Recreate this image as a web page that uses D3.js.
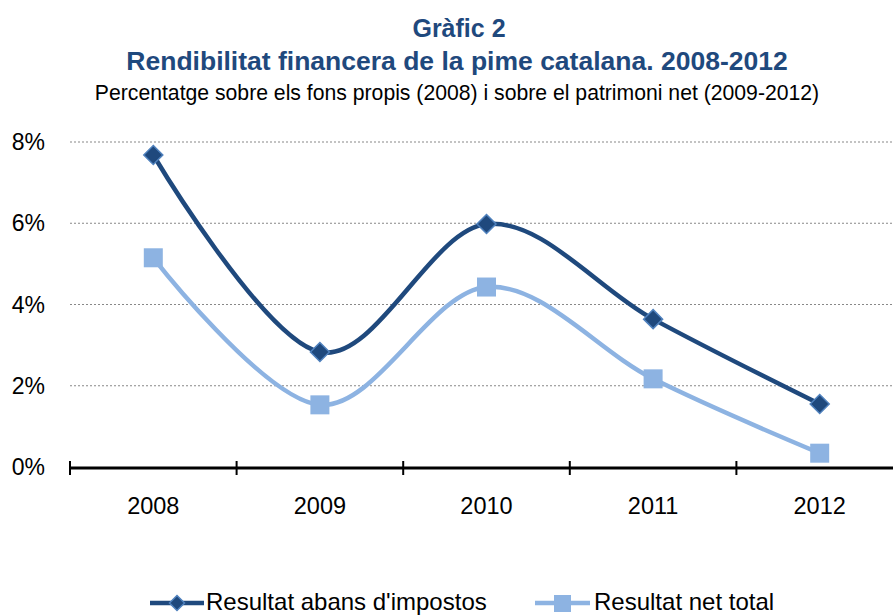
<!DOCTYPE html>
<html>
<head>
<meta charset="utf-8">
<script src="https://cdn.jsdelivr.net/npm/d3@7.9.0/dist/d3.min.js"></script>
<style>
  body { margin: 0; background: #fff; }
  svg { font-family: Arial, "Liberation Sans", sans-serif; display: block; }
</style>
</head>
<body>
<svg id="chart" width="893" height="615"></svg>
<script>
// Data
const years = ['2008', '2009', '2010', '2011', '2012'];
const abansImpostos = [7.68, 2.83, 5.98, 3.64, 1.55];
const netTotal = [5.15, 1.53, 4.43, 2.17, 0.34];
const yTicks = [0, 2, 4, 6, 8];
const seriesNames = ["Resultat abans d'impostos", 'Resultat net total'];

const dark = '#1f497d';
const light = '#8db3e2';

const svg = d3.select('#chart');

// Titles
svg.append('text')
  .attr('x', 459).attr('y', 37)
  .attr('text-anchor', 'middle')
  .attr('font-size', 25).attr('font-weight', 'bold')
  .attr('fill', dark)
  .text('Gràfic 2');
svg.append('text')
  .attr('x', 457).attr('y', 70)
  .attr('text-anchor', 'middle')
  .attr('font-size', 26.5).attr('font-weight', 'bold')
  .attr('fill', dark)
  .text('Rendibilitat financera de la pime catalana. 2008-2012');
svg.append('text')
  .attr('x', 457).attr('y', 100)
  .attr('text-anchor', 'middle')
  .attr('font-size', 21.2)
  .attr('fill', '#000')
  .text('Percentatge sobre els fons propis (2008) i sobre el patrimoni net (2009-2012)');

// Scales
const x = d3.scaleBand().domain(years).range([70, 903]);
const y = d3.scaleLinear().domain([0, 8]).range([467, 142]);
const cx = d => x(d) + x.bandwidth() / 2;

// Grid lines
svg.append('g')
  .selectAll('line')
  .data(yTicks.filter(d => d > 0))
  .join('line')
  .attr('x1', 70).attr('x2', 893)
  .attr('y1', d => y(d)).attr('y2', d => y(d))
  .attr('stroke', '#888')
  .attr('stroke-width', 1.2)
  .attr('stroke-dasharray', '2,2');

// Y labels
svg.append('g')
  .selectAll('text')
  .data(yTicks)
  .join('text')
  .attr('x', 45)
  .attr('y', d => y(d) + 8)
  .attr('text-anchor', 'end')
  .attr('font-size', 23)
  .text(d => d + '%');

// X axis
const xAxis = svg.append('g');
xAxis.append('line')
  .attr('x1', 69).attr('x2', 893)
  .attr('y1', y(0) + 1).attr('y2', y(0) + 1)
  .attr('stroke', '#000').attr('stroke-width', 3);
xAxis.selectAll('line.tick')
  .data(years)
  .join('line')
  .attr('class', 'tick')
  .attr('x1', d => x(d)).attr('x2', d => x(d))
  .attr('y1', y(0) - 6).attr('y2', y(0) + 8)
  .attr('stroke', '#000').attr('stroke-width', 2);
xAxis.selectAll('text')
  .data(years)
  .join('text')
  .attr('x', d => cx(d))
  .attr('y', 514)
  .attr('text-anchor', 'middle')
  .attr('font-size', 23.5)
  .text(d => d);

// Lines
const line = d3.line()
  .x((d, i) => cx(years[i]))
  .y(d => y(d))
  .curve(d3.curveCardinal.tension(0));

svg.append('path')
  .datum(netTotal)
  .attr('d', line)
  .attr('fill', 'none')
  .attr('stroke', light)
  .attr('stroke-width', 4.5);

svg.append('path')
  .datum(abansImpostos)
  .attr('d', line)
  .attr('fill', 'none')
  .attr('stroke', dark)
  .attr('stroke-width', 4.5);

// Markers
const diamond = (px, py, r) => `M${px},${py - r}L${px + r},${py}L${px},${py + r}L${px - r},${py}Z`;

svg.append('g')
  .selectAll('rect')
  .data(netTotal)
  .join('rect')
  .attr('x', (d, i) => cx(years[i]) - 9.5)
  .attr('y', d => y(d) - 9.5)
  .attr('width', 19).attr('height', 19)
  .attr('fill', light);

svg.append('g')
  .selectAll('path')
  .data(abansImpostos)
  .join('path')
  .attr('d', (d, i) => diamond(cx(years[i]), y(d), 9.5))
  .attr('fill', dark)
  .attr('stroke', '#4f81bd')
  .attr('stroke-width', 1.5);

// Legend
const legend = svg.append('g');
legend.append('line')
  .attr('x1', 150).attr('x2', 204)
  .attr('y1', 603).attr('y2', 603)
  .attr('stroke', dark).attr('stroke-width', 4.5);
legend.append('path')
  .attr('d', diamond(177, 603, 7.5))
  .attr('fill', dark).attr('stroke', '#4f81bd').attr('stroke-width', 1.5);
legend.append('text')
  .attr('x', 206).attr('y', 610)
  .attr('font-size', 24)
  .text(seriesNames[0]);

legend.append('line')
  .attr('x1', 535).attr('x2', 590)
  .attr('y1', 603).attr('y2', 603)
  .attr('stroke', light).attr('stroke-width', 4.5);
legend.append('rect')
  .attr('x', 554).attr('y', 595)
  .attr('width', 17).attr('height', 17)
  .attr('fill', light);
legend.append('text')
  .attr('x', 594).attr('y', 610)
  .attr('font-size', 24)
  .text(seriesNames[1]);
</script>
</body>
</html>
